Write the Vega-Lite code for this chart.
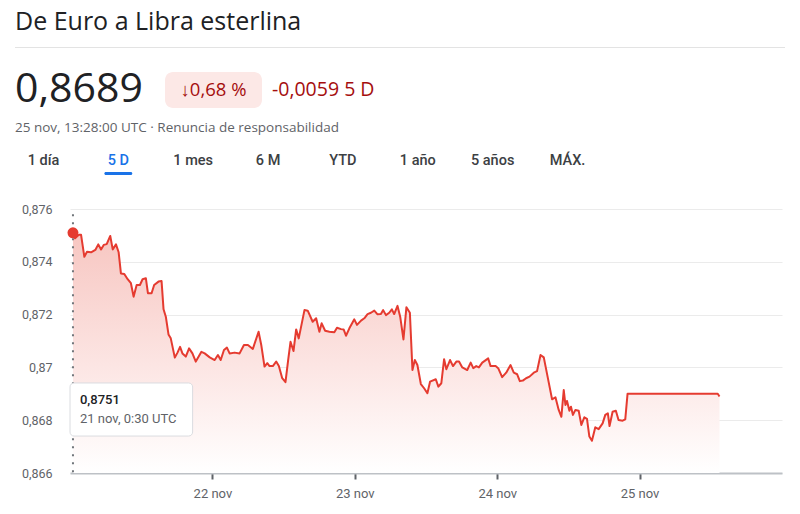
{
  "$schema": "https://vega.github.io/schema/vega-lite/v6.json",
  "background": "white",
  "padding": {"left": 15, "top": 0, "right": 10, "bottom": 6},
  "bounds": "flush",
  "spacing": 0,
  "datasets": {
    "header": [{"title": "De Euro a Libra esterlina", "stamp": "25 nov, 13:28:00 UTC · Renuncia de responsabilidad"}],
    "quote": [{"price": "0,8689", "pct": "↓0,68 %", "change": "-0,0059 5 D"}],
    "tabs": [{"tab": "1 día"}, {"tab": "5 D"}, {"tab": "1 mes"}, {"tab": "6 M"}, {"tab": "YTD"}, {"tab": "1 año"}, {"tab": "5 años"}, {"tab": "MÁX."}],
    "hover": [{"t": "2024-11-21T00:30:00Z", "v": 0.8751}],
    "series": [
      {"t": "2024-11-21T00:30:00Z", "v": 0.8751},
      {"t": "2024-11-21T00:51:00Z", "v": 0.87489},
      {"t": "2024-11-21T01:29:00Z", "v": 0.87502},
      {"t": "2024-11-21T01:52:00Z", "v": 0.87502},
      {"t": "2024-11-21T02:25:00Z", "v": 0.87419},
      {"t": "2024-11-21T02:52:00Z", "v": 0.87438},
      {"t": "2024-11-21T03:33:00Z", "v": 0.87436},
      {"t": "2024-11-21T04:16:00Z", "v": 0.87445},
      {"t": "2024-11-21T04:46:00Z", "v": 0.87466},
      {"t": "2024-11-21T05:14:00Z", "v": 0.87447},
      {"t": "2024-11-21T05:41:00Z", "v": 0.87464},
      {"t": "2024-11-21T06:11:00Z", "v": 0.87467},
      {"t": "2024-11-21T06:47:00Z", "v": 0.87498},
      {"t": "2024-11-21T07:12:00Z", "v": 0.87447},
      {"t": "2024-11-21T07:45:00Z", "v": 0.87466},
      {"t": "2024-11-21T08:12:00Z", "v": 0.87436},
      {"t": "2024-11-21T08:35:00Z", "v": 0.87356},
      {"t": "2024-11-21T09:09:00Z", "v": 0.87354},
      {"t": "2024-11-21T09:43:00Z", "v": 0.87334},
      {"t": "2024-11-21T10:16:00Z", "v": 0.87319},
      {"t": "2024-11-21T10:43:00Z", "v": 0.87268},
      {"t": "2024-11-21T11:14:00Z", "v": 0.87312},
      {"t": "2024-11-21T11:47:00Z", "v": 0.87312},
      {"t": "2024-11-21T12:14:00Z", "v": 0.87334},
      {"t": "2024-11-21T12:47:00Z", "v": 0.87338},
      {"t": "2024-11-21T13:08:00Z", "v": 0.87281},
      {"t": "2024-11-21T13:45:00Z", "v": 0.87281},
      {"t": "2024-11-21T14:11:00Z", "v": 0.87312},
      {"t": "2024-11-21T14:55:00Z", "v": 0.87325},
      {"t": "2024-11-21T15:26:00Z", "v": 0.87327},
      {"t": "2024-11-21T15:46:00Z", "v": 0.8722},
      {"t": "2024-11-21T16:09:00Z", "v": 0.87192},
      {"t": "2024-11-21T16:36:00Z", "v": 0.87125},
      {"t": "2024-11-21T16:59:00Z", "v": 0.8711},
      {"t": "2024-11-21T17:40:00Z", "v": 0.87037},
      {"t": "2024-11-21T18:07:00Z", "v": 0.87056},
      {"t": "2024-11-21T18:33:00Z", "v": 0.87078},
      {"t": "2024-11-21T18:57:00Z", "v": 0.87053},
      {"t": "2024-11-21T19:31:00Z", "v": 0.87041},
      {"t": "2024-11-21T20:04:00Z", "v": 0.87072},
      {"t": "2024-11-21T20:38:00Z", "v": 0.87053},
      {"t": "2024-11-21T21:12:00Z", "v": 0.87022},
      {"t": "2024-11-21T22:09:00Z", "v": 0.87059},
      {"t": "2024-11-21T22:42:00Z", "v": 0.87053},
      {"t": "2024-11-21T23:33:00Z", "v": 0.87038},
      {"t": "2024-11-22T00:23:00Z", "v": 0.87028},
      {"t": "2024-11-22T00:56:00Z", "v": 0.87047},
      {"t": "2024-11-22T01:24:00Z", "v": 0.87028},
      {"t": "2024-11-22T01:57:00Z", "v": 0.87066},
      {"t": "2024-11-22T02:27:00Z", "v": 0.87075},
      {"t": "2024-11-22T02:54:00Z", "v": 0.87053},
      {"t": "2024-11-22T03:45:00Z", "v": 0.87056},
      {"t": "2024-11-22T04:35:00Z", "v": 0.87053},
      {"t": "2024-11-22T05:19:00Z", "v": 0.87085},
      {"t": "2024-11-22T05:59:00Z", "v": 0.87085},
      {"t": "2024-11-22T06:49:00Z", "v": 0.8707},
      {"t": "2024-11-22T07:47:00Z", "v": 0.87135},
      {"t": "2024-11-22T08:14:00Z", "v": 0.87085},
      {"t": "2024-11-22T08:47:00Z", "v": 0.87003},
      {"t": "2024-11-22T09:15:00Z", "v": 0.87016},
      {"t": "2024-11-22T09:38:00Z", "v": 0.87005},
      {"t": "2024-11-22T10:11:00Z", "v": 0.87005},
      {"t": "2024-11-22T10:45:00Z", "v": 0.87022},
      {"t": "2024-11-22T11:12:00Z", "v": 0.87005},
      {"t": "2024-11-22T11:46:00Z", "v": 0.86959},
      {"t": "2024-11-22T12:19:00Z", "v": 0.86944},
      {"t": "2024-11-22T12:46:00Z", "v": 0.87028},
      {"t": "2024-11-22T13:10:00Z", "v": 0.87097},
      {"t": "2024-11-22T13:40:00Z", "v": 0.87062},
      {"t": "2024-11-22T14:07:00Z", "v": 0.87144},
      {"t": "2024-11-22T14:33:00Z", "v": 0.8711},
      {"t": "2024-11-22T15:31:00Z", "v": 0.87217},
      {"t": "2024-11-22T16:04:00Z", "v": 0.87215},
      {"t": "2024-11-22T16:54:00Z", "v": 0.87173},
      {"t": "2024-11-22T17:29:00Z", "v": 0.87186},
      {"t": "2024-11-22T18:02:00Z", "v": 0.87135},
      {"t": "2024-11-22T18:25:00Z", "v": 0.87167},
      {"t": "2024-11-22T19:00:00Z", "v": 0.87139},
      {"t": "2024-11-22T19:43:00Z", "v": 0.87135},
      {"t": "2024-11-22T20:33:00Z", "v": 0.87133},
      {"t": "2024-11-22T21:00:00Z", "v": 0.8715},
      {"t": "2024-11-22T21:41:00Z", "v": 0.87145},
      {"t": "2024-11-22T22:07:00Z", "v": 0.87144},
      {"t": "2024-11-22T22:31:00Z", "v": 0.8712},
      {"t": "2024-11-22T23:05:00Z", "v": 0.87148},
      {"t": "2024-11-22T23:55:00Z", "v": 0.87182},
      {"t": "2024-11-23T00:22:00Z", "v": 0.87161},
      {"t": "2024-11-23T01:03:00Z", "v": 0.87177},
      {"t": "2024-11-23T01:36:00Z", "v": 0.87186},
      {"t": "2024-11-23T02:09:00Z", "v": 0.87202},
      {"t": "2024-11-23T02:43:00Z", "v": 0.87207},
      {"t": "2024-11-23T03:17:00Z", "v": 0.87215},
      {"t": "2024-11-23T03:50:00Z", "v": 0.87201},
      {"t": "2024-11-23T04:24:00Z", "v": 0.87202},
      {"t": "2024-11-23T04:47:00Z", "v": 0.87217},
      {"t": "2024-11-23T05:15:00Z", "v": 0.87198},
      {"t": "2024-11-23T05:48:00Z", "v": 0.87207},
      {"t": "2024-11-23T06:15:00Z", "v": 0.8722},
      {"t": "2024-11-23T06:38:00Z", "v": 0.87202},
      {"t": "2024-11-23T07:12:00Z", "v": 0.87233},
      {"t": "2024-11-23T07:39:00Z", "v": 0.87192},
      {"t": "2024-11-23T08:12:00Z", "v": 0.87106},
      {"t": "2024-11-23T08:42:00Z", "v": 0.87228},
      {"t": "2024-11-23T09:17:00Z", "v": 0.87207},
      {"t": "2024-11-23T09:43:00Z", "v": 0.8699},
      {"t": "2024-11-23T10:07:00Z", "v": 0.87028},
      {"t": "2024-11-23T10:33:00Z", "v": 0.87009},
      {"t": "2024-11-23T11:08:00Z", "v": 0.86937},
      {"t": "2024-11-23T11:41:00Z", "v": 0.86921},
      {"t": "2024-11-23T12:14:00Z", "v": 0.86902},
      {"t": "2024-11-23T12:41:00Z", "v": 0.86946},
      {"t": "2024-11-23T13:39:00Z", "v": 0.86955},
      {"t": "2024-11-23T14:05:00Z", "v": 0.86927},
      {"t": "2024-11-23T14:35:00Z", "v": 0.8694},
      {"t": "2024-11-23T15:03:00Z", "v": 0.87031},
      {"t": "2024-11-23T15:26:00Z", "v": 0.86993},
      {"t": "2024-11-23T16:03:00Z", "v": 0.87028},
      {"t": "2024-11-23T16:33:00Z", "v": 0.87005},
      {"t": "2024-11-23T17:07:00Z", "v": 0.87022},
      {"t": "2024-11-23T17:34:00Z", "v": 0.87022},
      {"t": "2024-11-23T18:07:00Z", "v": 0.87},
      {"t": "2024-11-23T18:57:00Z", "v": 0.8699},
      {"t": "2024-11-23T19:32:00Z", "v": 0.87018},
      {"t": "2024-11-23T19:58:00Z", "v": 0.86997},
      {"t": "2024-11-23T20:28:00Z", "v": 0.87005},
      {"t": "2024-11-23T20:55:00Z", "v": 0.87},
      {"t": "2024-11-23T21:29:00Z", "v": 0.87018},
      {"t": "2024-11-23T22:29:00Z", "v": 0.87034},
      {"t": "2024-11-23T22:53:00Z", "v": 0.87005},
      {"t": "2024-11-23T23:44:00Z", "v": 0.87005},
      {"t": "2024-11-24T00:10:00Z", "v": 0.86997},
      {"t": "2024-11-24T00:50:00Z", "v": 0.86963},
      {"t": "2024-11-24T01:31:00Z", "v": 0.8698},
      {"t": "2024-11-24T02:15:00Z", "v": 0.87009},
      {"t": "2024-11-24T02:48:00Z", "v": 0.8698},
      {"t": "2024-11-24T03:22:00Z", "v": 0.86974},
      {"t": "2024-11-24T03:49:00Z", "v": 0.86948},
      {"t": "2024-11-24T04:19:00Z", "v": 0.8695},
      {"t": "2024-11-24T04:52:00Z", "v": 0.86959},
      {"t": "2024-11-24T05:27:00Z", "v": 0.86965},
      {"t": "2024-11-24T06:10:00Z", "v": 0.8698},
      {"t": "2024-11-24T06:43:00Z", "v": 0.86986},
      {"t": "2024-11-24T07:18:00Z", "v": 0.87047},
      {"t": "2024-11-24T07:51:00Z", "v": 0.87038},
      {"t": "2024-11-24T09:15:00Z", "v": 0.86879},
      {"t": "2024-11-24T09:49:00Z", "v": 0.86887},
      {"t": "2024-11-24T10:22:00Z", "v": 0.86839},
      {"t": "2024-11-24T10:49:00Z", "v": 0.86813},
      {"t": "2024-11-24T11:13:00Z", "v": 0.86914},
      {"t": "2024-11-24T11:30:00Z", "v": 0.86858},
      {"t": "2024-11-24T11:46:00Z", "v": 0.86873},
      {"t": "2024-11-24T12:10:00Z", "v": 0.86836},
      {"t": "2024-11-24T12:26:00Z", "v": 0.86851},
      {"t": "2024-11-24T12:46:00Z", "v": 0.8682},
      {"t": "2024-11-24T13:11:00Z", "v": 0.86839},
      {"t": "2024-11-24T13:44:00Z", "v": 0.86836},
      {"t": "2024-11-24T14:11:00Z", "v": 0.86782},
      {"t": "2024-11-24T14:41:00Z", "v": 0.86811},
      {"t": "2024-11-24T15:08:00Z", "v": 0.86805},
      {"t": "2024-11-24T15:32:00Z", "v": 0.86738},
      {"t": "2024-11-24T15:58:00Z", "v": 0.86722},
      {"t": "2024-11-24T16:32:00Z", "v": 0.86773},
      {"t": "2024-11-24T17:06:00Z", "v": 0.86766},
      {"t": "2024-11-24T17:46:00Z", "v": 0.86788},
      {"t": "2024-11-24T18:13:00Z", "v": 0.8682},
      {"t": "2024-11-24T18:39:00Z", "v": 0.86826},
      {"t": "2024-11-24T18:56:00Z", "v": 0.86778},
      {"t": "2024-11-24T19:27:00Z", "v": 0.86832},
      {"t": "2024-11-24T20:00:00Z", "v": 0.86836},
      {"t": "2024-11-24T20:27:00Z", "v": 0.86801},
      {"t": "2024-11-24T21:08:00Z", "v": 0.86798},
      {"t": "2024-11-24T21:35:00Z", "v": 0.86803},
      {"t": "2024-11-24T21:58:00Z", "v": 0.869},
      {"t": "2024-11-25T13:10:00Z", "v": 0.869},
      {"t": "2024-11-25T13:28:00Z", "v": 0.8689}
    ]
  },
  "vconcat": [
    {
      "width": 770,
      "height": 47,
      "data": {"name": "header"},
      "mark": {"type": "text", "align": "left", "baseline": "middle", "font": "Open Sans", "fontSize": 25, "color": "#202124", "dy": -2},
      "encoding": {
        "x": {"field": "title", "type": "nominal", "bandPosition": 0, "scale": {"type": "band", "padding": 0}, "axis": null},
        "text": {"field": "title"}
      }
    },
    {
      "width": 770,
      "height": 1,
      "data": {"values": [{}]},
      "mark": {"type": "rect", "color": "#e3e3e3"}
    },
    {
      "bounds": "flush",
      "center": true,
      "spacing": 10,
      "hconcat": [
        {
          "width": 140,
          "height": 84,
          "data": {"name": "quote"},
          "mark": {"type": "text", "align": "left", "baseline": "middle", "font": "Open Sans", "fontSize": 41, "color": "#202124"},
          "encoding": {
            "x": {"field": "price", "type": "nominal", "bandPosition": 0, "scale": {"type": "band", "padding": 0}, "axis": null},
            "text": {"field": "price"}
          }
        },
        {
          "width": 97,
          "height": 36,
          "data": {"name": "quote"},
          "layer": [
            {"mark": {"type": "rect", "color": "#fce8e6", "cornerRadius": 8}},
            {
              "mark": {"type": "text", "align": "center", "baseline": "middle", "font": "Open Sans", "fontSize": 18.5, "color": "#a50e0e"},
              "encoding": {"text": {"field": "pct"}}
            }
          ]
        },
        {
          "width": 300,
          "height": 84,
          "data": {"name": "quote"},
          "mark": {"type": "text", "align": "left", "baseline": "middle", "font": "Open Sans", "fontSize": 19.5, "color": "#a50e0e"},
          "encoding": {
            "x": {"field": "change", "type": "nominal", "bandPosition": 0, "scale": {"type": "band", "padding": 0}, "axis": null},
            "text": {"field": "change"}
          }
        }
      ]
    },
    {
      "width": 1,
      "height": 84,
      "data": {"values": []},
      "mark": "text"
    },
    {
      "width": 770,
      "height": 18,
      "data": {"name": "header"},
      "mark": {"type": "text", "align": "left", "baseline": "middle", "font": "Open Sans", "fontSize": 13.5, "color": "#5f6368", "dy": -13},
      "encoding": {
        "x": {"field": "stamp", "type": "nominal", "bandPosition": 0, "scale": {"type": "band", "padding": 0}, "axis": null},
        "text": {"field": "stamp"}
      }
    },
    {
      "width": 581,
      "height": 22,
      "data": {"name": "tabs"},
      "mark": {"type": "text", "align": "center", "baseline": "middle", "fontSize": 14.5, "fontWeight": 500},
      "encoding": {
        "x": {"field": "tab", "type": "nominal", "sort": null, "scale": {"type": "point", "padding": 0.38}, "axis": null},
        "text": {"field": "tab"},
        "color": {"condition": {"test": "datum.tab === '5 D'", "value": "#1a73e8"}, "value": "#3c4043"}
      }
    },
    {
      "width": 581,
      "height": 3,
      "data": {"name": "tabs"},
      "transform": [{"filter": "datum.tab === '5 D'"}],
      "mark": {"type": "bar", "color": "#1a73e8", "width": 28, "cornerRadius": 1.5},
      "encoding": {
        "x": {"field": "tab", "type": "nominal", "scale": {"type": "point", "padding": 0.38, "domain": ["1 día", "5 D", "1 mes", "6 M", "YTD", "1 año", "5 años", "MÁX."]}, "axis": null}
      }
    },
    {
      "width": 1,
      "height": 34,
      "data": {"values": []},
      "mark": "text"
    },
    {
      "bounds": "flush",
      "spacing": 0,
      "hconcat": [
        {
          "width": 55,
          "height": 1,
          "data": {"values": []},
          "mark": "text"
        },
        {
          "width": 712,
          "height": 264,
          "layer": [
            {
              "data": {"name": "series"},
              "mark": {
                "type": "area",
                "color": {
                  "gradient": "linear", "x1": 0, "y1": 0, "x2": 0, "y2": 1,
                  "stops": [
                    {"offset": 0, "color": "#f7c6c1"},
                    {"offset": 0.55, "color": "#fce5e3"},
                    {"offset": 1, "color": "#ffffff"}
                  ]
                }
              },
              "encoding": {
                "x": {
                  "field": "t", "type": "temporal",
                  "scale": {"type": "utc", "domain": [{"year": 2024, "month": 11, "date": 21, "utc": true}, {"year": 2024, "month": 11, "date": 26, "utc": true}]},
                  "axis": {
                    "title": null,
                    "grid": false,
                    "values": [
                      {"year": 2024, "month": 11, "date": 22, "utc": true},
                      {"year": 2024, "month": 11, "date": 23, "utc": true},
                      {"year": 2024, "month": 11, "date": 24, "utc": true},
                      {"year": 2024, "month": 11, "date": 25, "utc": true}
                    ],
                    "format": "%-d %b",
                    "domainColor": "#bdc1c6",
                    "domainWidth": 2,
                    "tickColor": "#5f6368",
                    "tickSize": 6,
                    "tickWidth": 2,
                    "labelPadding": 8,
                    "labelFontSize": 13,
                    "labelColor": "#5f6368"
                  }
                },
                "y": {
                  "field": "v", "type": "quantitative",
                  "scale": {"domain": [0.866, 0.876], "zero": false, "nice": false},
                  "axis": {
                    "title": null,
                    "values": [0.866, 0.868, 0.87, 0.872, 0.874, 0.876],
                    "format": ".3~f",
                    "domain": false,
                    "ticks": false,
                    "grid": true,
                    "gridColor": "#ebebeb",
                    "labelPadding": 18,
                    "labelFontSize": 12.5,
                    "labelColor": "#5f6368"
                  }
                },
                "y2": {"datum": 0.866}
              }
            },
            {
              "data": {"name": "series"},
              "mark": {"type": "line", "color": "#e53b30", "strokeWidth": 2, "strokeJoin": "round"},
              "encoding": {
                "x": {"field": "t", "type": "temporal"},
                "y": {"field": "v", "type": "quantitative"}
              }
            },
            {
              "data": {"name": "hover"},
              "mark": {"type": "rule", "color": "#70757a", "strokeWidth": 2, "strokeDash": [2, 6]},
              "encoding": {
                "x": {"field": "t", "type": "temporal"},
                "y": {"datum": 0.8758},
                "y2": {"datum": 0.866}
              }
            },
            {
              "data": {"name": "hover"},
              "mark": {"type": "circle", "size": 120, "color": "#e53b30", "opacity": 1},
              "encoding": {
                "x": {"field": "t", "type": "temporal"},
                "y": {"field": "v", "type": "quantitative"}
              }
            },
            {
              "data": {"name": "hover"},
              "mark": {"type": "rect", "fill": "#ffffff", "stroke": "#dadce0", "strokeWidth": 1, "cornerRadius": 4},
              "encoding": {
                "x": {"datum": {"year": 2024, "month": 11, "date": 21, "hours": 0, "utc": true}},
                "x2": {"datum": {"year": 2024, "month": 11, "date": 21, "hours": 20, "minutes": 40, "utc": true}},
                "y": {"datum": 0.86941},
                "y2": {"datum": 0.8674}
              }
            },
            {
              "data": {"name": "hover"},
              "mark": {"type": "text", "align": "left", "baseline": "middle", "dx": 7, "fontSize": 13, "fontWeight": 500, "color": "#202124"},
              "encoding": {
                "x": {"field": "t", "type": "temporal"},
                "y": {"datum": 0.86877},
                "text": {"field": "v", "type": "quantitative", "format": ".4f"}
              }
            },
            {
              "data": {"name": "hover"},
              "mark": {"type": "text", "align": "left", "baseline": "middle", "dx": 7, "fontSize": 13, "color": "#5f6368"},
              "encoding": {
                "x": {"field": "t", "type": "temporal"},
                "y": {"datum": 0.86803},
                "text": {"field": "t", "type": "temporal", "timeUnit": "utcyearmonthdatehoursminutes", "format": "%-d %b, %-H:%M UTC"}
              }
            }
          ]
        }
      ]
    }
  ],
  "config": {
    "font": "Roboto",
    "view": {"stroke": null},
    "locale": {
      "number": {"decimal": ",", "thousands": ".", "grouping": [3], "currency": ["", " €"]},
      "time": {
        "dateTime": "%A, %e de %B de %Y, %X",
        "date": "%d/%m/%Y",
        "time": "%H:%M:%S",
        "periods": ["AM", "PM"],
        "days": ["domingo", "lunes", "martes", "miércoles", "jueves", "viernes", "sábado"],
        "shortDays": ["dom", "lun", "mar", "mié", "jue", "vie", "sáb"],
        "months": ["enero", "febrero", "marzo", "abril", "mayo", "junio", "julio", "agosto", "septiembre", "octubre", "noviembre", "diciembre"],
        "shortMonths": ["ene", "feb", "mar", "abr", "may", "jun", "jul", "ago", "sept", "oct", "nov", "dic"]
      }
    }
  }
}
